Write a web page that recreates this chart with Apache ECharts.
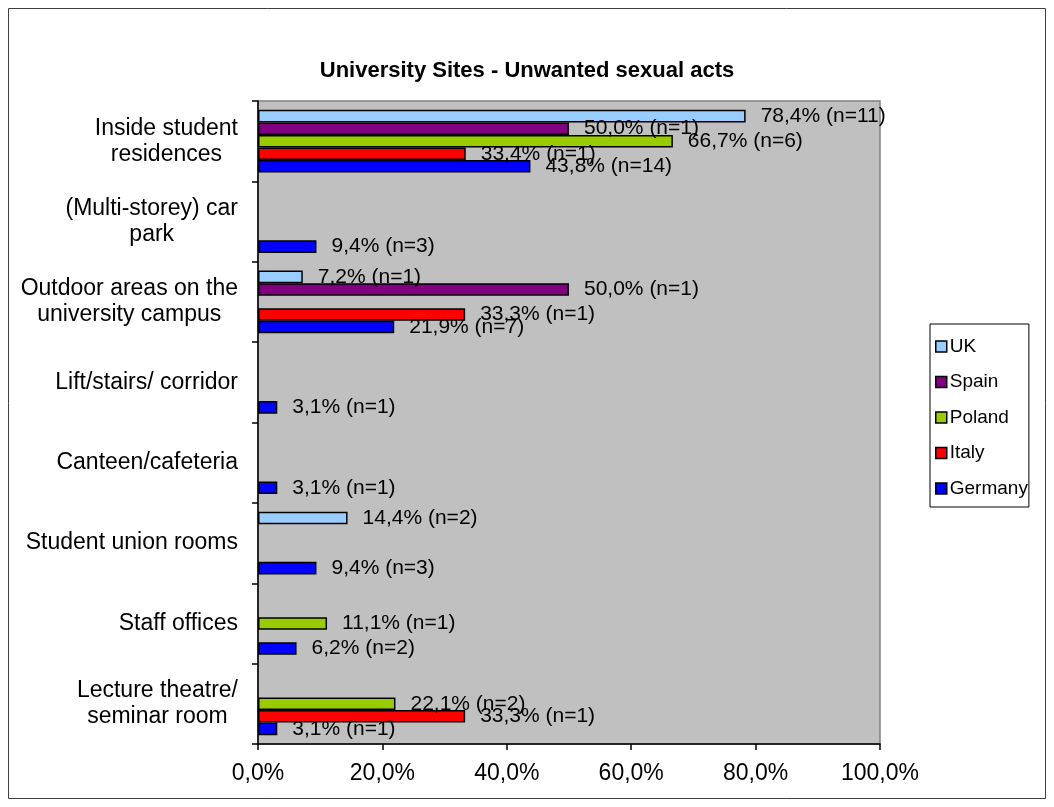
<!DOCTYPE html>
<html><head><meta charset="utf-8">
<script src="https://cdn.jsdelivr.net/npm/echarts@6/dist/echarts.min.js"></script>
<style>html,body{margin:0;padding:0;background:#fff}#c{width:1054px;height:807px}</style>
</head><body><div id="c"></div>
<script>
const categories = ['Inside student\nresidences', '(Multi-storey) car\npark', 'Outdoor areas on the\nuniversity campus', 'Lift/stairs/ corridor', 'Canteen/cafeteria', 'Student union rooms', 'Staff offices', 'Lecture theatre/\nseminar room'];
const seriesNames = ['UK', 'Spain', 'Poland', 'Italy', 'Germany'];
const ukValues      = [78.4, null, 7.2,  null, null, 14.4, null, null];
const ukN           = [11,   null, 1,    null, null, 2,    null, null];
const spainValues   = [50.0, null, 50.0, null, null, null, null, null];
const spainN        = [1,    null, 1,    null, null, null, null, null];
const polandValues  = [66.7, null, null, null, null, null, 11.1, 22.1];
const polandN       = [6,    null, null, null, null, null, 1,    2];
const italyValues   = [33.4, null, 33.3, null, null, null, null, 33.3];
const italyN        = [1,    null, 1,    null, null, null, null, 1];
const germanyValues = [43.8, 9.4,  21.9, 3.1,  3.1,  9.4,  6.2,  3.1];
const germanyN      = [14,   3,    7,    1,    1,    3,    2,    1];
const xTickValues = [0, 20, 40, 60, 80, 100];
const colors = ['#99CCFF', '#800080', '#99CC00', '#FF0000', '#0000FF'];
const titleText = 'University Sites - Unwanted sexual acts';

const allValues = [ukValues, spainValues, polandValues, italyValues, germanyValues];
const allN = [ukN, spainN, polandN, italyN, germanyN];
const FONT = '"Liberation Sans", Arial, sans-serif';
const fmtPct = v => v.toFixed(1).replace('.', ',') + '%';

const chart = echarts.init(document.getElementById('c'), null, {renderer: 'canvas'});
const series = seriesNames.map((name, i) => ({
  name: name,
  type: 'bar',
  data: allValues[i],
  barGap: '0%',
  barCategoryGap: '22%',
  itemStyle: {color: colors[i], borderColor: '#000', borderWidth: 1.5},
  label: {
    show: true, position: 'right', distance: 15,
    fontFamily: FONT, fontSize: 21, color: '#000',
    formatter: p => fmtPct(p.value) + ' (n=' + allN[i][p.dataIndex] + ')'
  },
  emphasis: {disabled: true},
  animation: false
}));

chart.setOption({
  backgroundColor: '#fff',
  animation: false,
  title: {
    text: titleText, left: 'center', top: 55,
    textStyle: {fontFamily: FONT, fontSize: 22, fontWeight: 'bold', color: '#000'}
  },
  legend: {
    orient: 'vertical', left: 930, top: 324,
    data: seriesNames,
    icon: 'rect', itemWidth: 11, itemHeight: 11, itemGap: 16.5,
    padding: [13, 1, 9, 5],
    backgroundColor: '#fff', borderColor: '#000', borderWidth: 1,
    itemStyle: {borderColor: '#000', borderWidth: 1.5},
    textStyle: {fontFamily: FONT, fontSize: 19, color: '#000', padding: [0, 0, 0, -2]}
  },
  grid: {
    left: 258, right: 174, top: 101, bottom: 63,
    show: true, backgroundColor: '#C0C0C0', borderColor: '#808080', borderWidth: 1.5,
    containLabel: false
  },
  xAxis: {
    type: 'value', min: xTickValues[0], max: xTickValues[xTickValues.length - 1], interval: 20,
    axisLine: {show: true, lineStyle: {color: '#000', width: 1.5}},
    axisTick: {show: true, length: 6, lineStyle: {color: '#000', width: 1.5}},
    splitLine: {show: false},
    axisLabel: {fontFamily: FONT, fontSize: 23, color: '#000', margin: 18, formatter: v => fmtPct(v)}
  },
  yAxis: {
    type: 'category', data: categories, inverse: true,
    axisLine: {show: true, lineStyle: {color: '#000', width: 1.5}},
    axisTick: {show: true, length: 6, lineStyle: {color: '#000', width: 1.5}},
    splitLine: {show: false},
    axisLabel: {
      margin: 20, fontFamily: FONT, fontSize: 23, color: '#000', lineHeight: 26,
      formatter: v => v.split('\n').map(s => '{c|' + s + '}').join('\n'),
      rich: {c: {align: 'center', fontFamily: FONT, fontSize: 23, lineHeight: 26, color: '#000'}}
    }
  },
  graphic: [{
    type: 'rect', shape: {x: 8.5, y: 8.5, width: 1037, height: 790},
    style: {fill: null, stroke: '#404040', lineWidth: 1}, silent: true, z: -10
  }],
  series: series
});
</script></body></html>
